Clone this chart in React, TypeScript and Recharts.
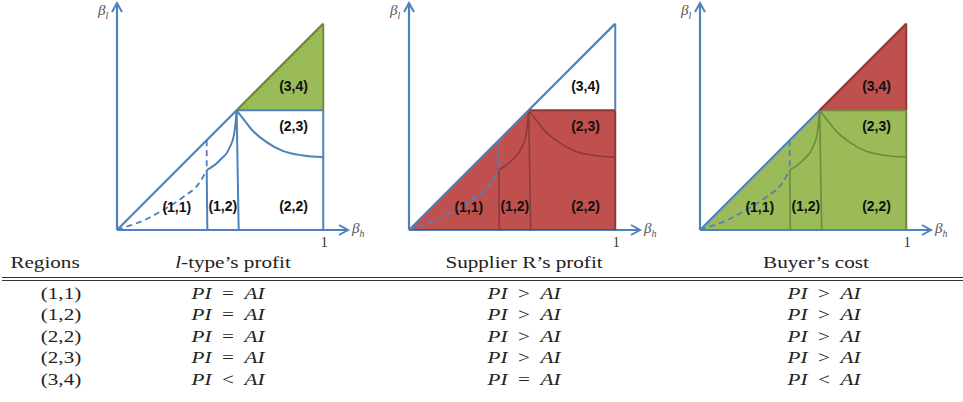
import React from "react";
import { ComposedChart, Area, Line, XAxis, YAxis, ReferenceLine, ReferenceDot } from "recharts";

const BLUE = "#4F81BD";
const GREEN = "#9BBB59";
const GREEN_DARK = "#6F8A3C";
const RED = "#C0504D";
const RED_DARK = "#8E3A38";

const X_MAX = 1.12;
const Y_MAX = 1.1;
const KINK = 0.58; // where the regions meet on the diagonal
const SPLIT = 0.435; // (1,1) | (1,2) border

// boundaries in (beta_h, beta_l)
const diagonalLow = [{ x: 0, y: 0 }, { x: KINK, y: KINK }];
const diagonalHigh = [{ x: KINK, y: KINK }, { x: 1, y: 1 }];
const dashedCurve = [
  { x: 0, y: 0 }, { x: 0.037, y: 0.013 }, { x: 0.126, y: 0.045 }, { x: 0.223, y: 0.097 },
  { x: 0.32, y: 0.159 }, { x: 0.401, y: 0.231 }, { x: SPLIT, y: 0.29 },
];
const solidCurve = [
  { x: SPLIT, y: 0.29 }, { x: 0.498, y: 0.337 }, { x: 0.547, y: 0.401 }, { x: 0.568, y: 0.466 },
  { x: 0.576, y: 0.531 }, { x: KINK, y: KINK },
];
const upperCurve = [
  { x: KINK, y: KINK }, { x: 0.612, y: 0.539 }, { x: 0.66, y: 0.479 }, { x: 0.725, y: 0.426 },
  { x: 0.806, y: 0.382 }, { x: 0.903, y: 0.361 }, { x: 1, y: 0.353 },
];
const splitDashed = [{ x: SPLIT, y: SPLIT }, { x: SPLIT, y: 0.29 }];
const splitSolid = [{ x: SPLIT, y: 0.29 }, { x: 0.438, y: 0 }];
const kinkVertical = [{ x: KINK, y: KINK }, { x: 0.59, y: 0 }];
const kinkHorizontal = [{ x: KINK, y: KINK }, { x: 1, y: KINK }];
const rightEdgeLow = [{ x: 1, y: 0 }, { x: 1, y: KINK }];
const rightEdgeHigh = [{ x: 1, y: KINK }, { x: 1, y: 1 }];
const bottomEdge = [{ x: 0, y: 0 }, { x: 1, y: 0 }];

// shaded regions as [low, high] bands
const lowerBand = [{ x: 0, band: [0, 0] }, { x: KINK, band: [0, KINK] }, { x: 1, band: [0, KINK] }];
const upperBand = [{ x: KINK, band: [KINK, KINK] }, { x: 1, band: [KINK, 1] }];

const regionNames = ["(1,1)", "(1,2)", "(2,2)", "(2,3)", "(3,4)"];
const regionSpotX = [0.29, 0.513, 0.856, 0.856, 0.856];
const regionSpotY = [0.11, 0.117, 0.117, 0.505, 0.696];

// table
const columnHeads = ["Regions", "-type\u2019s profit", "Supplier R\u2019s profit", "Buyer\u2019s cost"];
const lTypeProfit = ["=", "=", "=", "=", "<"];
const supplierProfit = [">", ">", ">", ">", "="];
const buyerCost = [">", ">", ">", ">", "<"];

const panels = [
  { left: 117, lowFill: null, highFill: GREEN, edge: BLUE, highEdge: GREEN_DARK },
  { left: 409, lowFill: RED, highFill: null, edge: RED_DARK, highEdge: BLUE },
  { left: 700, lowFill: GREEN, highFill: RED, edge: GREEN_DARK, highEdge: RED_DARK },
];

const seg = (key: string, data: any[], color: string, width = 1.8, curve = false, dash?: string) => (
  <Line
    key={key}
    data={data}
    dataKey="y"
    type={curve ? "monotone" : "linear"}
    stroke={color}
    strokeWidth={width}
    strokeDasharray={dash}
    dot={false}
    activeDot={false}
    isAnimationActive={false}
  />
);

const arrowRight = (p: any) => (
  <polyline points={`${p.cx - 9},${p.cy - 5} ${p.cx},${p.cy} ${p.cx - 9},${p.cy + 5}`} fill="none" stroke={BLUE} strokeWidth={2} />
);
const arrowUp = (p: any) => (
  <polyline points={`${p.cx - 5},${p.cy + 9} ${p.cx},${p.cy} ${p.cx + 5},${p.cy + 9}`} fill="none" stroke={BLUE} strokeWidth={2} />
);

function Beta({ x, y, sub }: { x: number; y: number; sub: string }) {
  return (
    <text x={x} y={y} fontFamily="Liberation Serif" fontStyle="italic" fontSize={15} fill="#555">
      β<tspan dy={4} fontSize={10}>{sub}</tspan>
    </text>
  );
}

function Panel({ cfg }: { cfg: (typeof panels)[number] }) {
  const inner = cfg.lowFill ? 1.6 : 2;
  return (
    <div style={{ position: "absolute", left: cfg.left - 20, top: 0 }}>
      <ComposedChart width={291} height={250} margin={{ top: 3, right: 40, bottom: 20, left: 20 }}>
        <XAxis type="number" dataKey="x" domain={[0, X_MAX]} hide allowDataOverflow />
        <YAxis type="number" domain={[0, Y_MAX]} hide allowDataOverflow />
        {cfg.lowFill && (
          <Area data={lowerBand} dataKey="band" type="linear" fill={cfg.lowFill} fillOpacity={1} stroke="none" isAnimationActive={false} />
        )}
        {cfg.highFill && (
          <Area data={upperBand} dataKey="band" type="linear" fill={cfg.highFill} fillOpacity={1} stroke="none" isAnimationActive={false} />
        )}
        <ReferenceLine segment={[{ x: 0, y: 0 }, { x: X_MAX, y: 0 }]} stroke={BLUE} strokeWidth={2.2} ifOverflow="visible" />
        <ReferenceLine segment={[{ x: 0, y: 0 }, { x: 0, y: Y_MAX }]} stroke={BLUE} strokeWidth={2.2} ifOverflow="visible" />
        {cfg.lowFill && seg("bottom", bottomEdge, cfg.edge, 1.8)}
        {seg("solidCurve", solidCurve, cfg.edge, inner, true)}
        {seg("upperCurve", upperCurve, cfg.edge, inner, true)}
        {seg("splitSolid", splitSolid, cfg.edge, inner)}
        {seg("kinkVertical", kinkVertical, cfg.edge, inner)}
        {seg("rightLow", rightEdgeLow, cfg.edge, 2)}
        {seg("kinkHorizontal", kinkHorizontal, cfg.lowFill ? cfg.edge : BLUE, 2)}
        {seg("rightHigh", rightEdgeHigh, cfg.highEdge, 2)}
        {seg("dashedCurve", dashedCurve, BLUE, 1.8, true, "6 4")}
        {seg("splitDashed", splitDashed, BLUE, 1.8, false, "6 4")}
        {seg("diagLow", diagonalLow, BLUE, 2.2)}
        {seg("diagHigh", diagonalHigh, cfg.highFill ? cfg.highEdge : BLUE, 2.2)}
        <ReferenceDot x={X_MAX} y={0} r={0} ifOverflow="visible" shape={arrowRight} />
        <ReferenceDot x={0} y={Y_MAX} r={0} ifOverflow="visible" shape={arrowUp} />
        <ReferenceDot
          x={X_MAX}
          y={0}
          r={0}
          ifOverflow="visible"
          shape={(p: any) => <Beta x={p.cx + 4} y={p.cy + 3} sub="h" />}
        />
        <ReferenceDot
          x={0}
          y={Y_MAX}
          r={0}
          ifOverflow="visible"
          shape={(p: any) => <Beta x={p.cx - 19} y={p.cy + 12} sub="l" />}
        />
        <ReferenceDot
          x={1}
          y={0}
          r={0}
          ifOverflow="visible"
          shape={(p: any) => (
            <text x={p.cx + 1} y={p.cy + 17} textAnchor="middle" fontFamily="Liberation Serif" fontSize={14} fill="#333">
              1
            </text>
          )}
        />
        {regionNames.map((name, i) => (
          <ReferenceDot
            key={name}
            x={regionSpotX[i]}
            y={regionSpotY[i]}
            r={0}
            ifOverflow="visible"
            shape={(p: any) => (
              <text x={p.cx} y={p.cy} textAnchor="middle" dominantBaseline="central" fontFamily="Liberation Sans" fontWeight="bold" fontSize={14} fill="#111">
                {name}
              </text>
            )}
          />
        ))}
      </ComposedChart>
    </div>
  );
}

const cellFont: React.CSSProperties = {
  position: "absolute",
  fontFamily: "Liberation Serif",
  fontSize: 16,
  lineHeight: "16px",
  color: "#222",
  whiteSpace: "nowrap",
};

function Cell({ cx, cy, children }: { cx: number; cy: number; children: React.ReactNode }) {
  return (
    <div style={{ ...cellFont, left: cx, top: cy, transform: "translate(-50%, -50%) scaleX(1.32)" }}>{children}</div>
  );
}

const Relation = ({ op }: { op: string }) => (
  <span>
    <i>PI</i>
    {"\u2002"}
    {op}
    {"\u2002"}
    <i>AI</i>
  </span>
);

const headX = [45, 233, 524, 816];
const valueX = [61, 228, 524, 824];
const rowY = [293.5, 315, 336.5, 358, 379.5];

export default function App() {
  return (
    <div style={{ position: "absolute", left: 0, top: 0, width: 963, height: 402, background: "#fff", overflow: "hidden" }}>
      {panels.map((cfg, i) => (
        <Panel key={i} cfg={cfg} />
      ))}
      <Cell cx={headX[0]} cy={263}>{columnHeads[0]}</Cell>
      <Cell cx={headX[1]} cy={263}>
        <i>l</i>
        {columnHeads[1]}
      </Cell>
      <Cell cx={headX[2]} cy={263}>{columnHeads[2]}</Cell>
      <Cell cx={headX[3]} cy={263}>{columnHeads[3]}</Cell>
      <div style={{ position: "absolute", left: 2, top: 277, width: 961, height: 2, borderTop: "1px solid #333", borderBottom: "1px solid #333" }} />
      {regionNames.map((r, i) => (
        <React.Fragment key={r}>
          <Cell cx={valueX[0]} cy={rowY[i]}>{r}</Cell>
          <Cell cx={valueX[1]} cy={rowY[i]}><Relation op={lTypeProfit[i]} /></Cell>
          <Cell cx={valueX[2]} cy={rowY[i]}><Relation op={supplierProfit[i]} /></Cell>
          <Cell cx={valueX[3]} cy={rowY[i]}><Relation op={buyerCost[i]} /></Cell>
        </React.Fragment>
      ))}
    </div>
  );
}
